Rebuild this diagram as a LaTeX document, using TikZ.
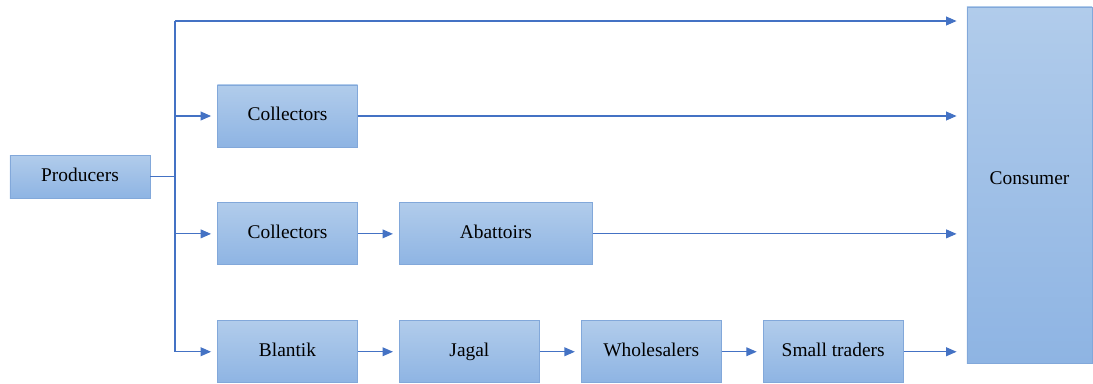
\documentclass[tikz,border=0pt]{standalone}
\usepackage{fontspec}
\setmainfont{Liberation Serif}
\newfontfamily\timesfont{Liberation Serif}
\usetikzlibrary{positioning,arrows.meta}
\definecolor{boxtop}{RGB}{177,204,235}
\definecolor{boxbot}{RGB}{142,180,227}
\definecolor{boxline}{RGB}{130,168,218}
\definecolor{flowblue}{RGB}{68,114,196}

\begin{document}
\begin{tikzpicture}[
  x=0.025cm, y=-0.025cm,
  node distance=1.375cm and 1.025cm,
  stage/.style={rectangle, draw=boxline, top color=boxtop, bottom color=boxbot, line width=0.6pt, minimum width=3.5cm, minimum height=1.55cm, inner sep=0pt, text height=0.9em, text depth=0.22em, font=\timesfont\fontsize{13.8}{16}\selectfont},
  conn/.style={draw=flowblue, line width=0.8pt},
  line/.style={conn, -{Triangle[length=2.6mm, width=2.2mm]}, shorten >=0.15cm},
  tocons/.style={line, shorten >=0.25cm}
]
  \useasboundingbox (0,0) rectangle (1093,383);

  % Nodes
  \node[stage, minimum height=1.075cm] (producers) at (80,176.5) {Producers};
  \node[stage] (collect1) at (287.5,116) {Collectors};
  \node[stage, below=of collect1] (collect2) {Collectors};
  \node[stage, below=of collect2] (blantik) {Blantik};
  \node[stage, right=of collect2, minimum width=4.825cm] (abattoir) {Abattoirs};
  \node[stage, right=of blantik] (jagal) {Jagal};
  \node[stage, right=of jagal] (whole) {Wholesalers};
  \node[stage, right=of whole] (small) {Small traders};
  \node[stage, minimum width=3.125cm, minimum height=8.9cm] (consumer) at (1029.5,185) {};
  \node[font=\timesfont\fontsize{13.8}{16}\selectfont] (constext) at (1029.5,178) {Consumer};

  \coordinate (split) at (175,176.5);
  \coordinate (direct) at (175,21);

  % Arrows
  \path[conn] (producers.east) -- (split);
  \path[conn] (direct) -- (direct |- blantik);
  \path[tocons] (direct) -- (direct -| consumer.west);
  \path[line] (split |- collect1) -- (collect1);
  \path[line] (split |- collect2) -- (collect2);
  \path[line] (split |- blantik) -- (blantik);
  \path[tocons] (collect1) -- (collect1 -| consumer.west);
  \path[line] (collect2) -- (abattoir);
  \path[tocons] (abattoir) -- (abattoir -| consumer.west);
  \path[line] (blantik) -- (jagal);
  \path[line] (jagal) -- (whole);
  \path[line] (whole) -- (small);
  \path[tocons] (small) -- (small -| consumer.west);

\end{tikzpicture}
\end{document}
